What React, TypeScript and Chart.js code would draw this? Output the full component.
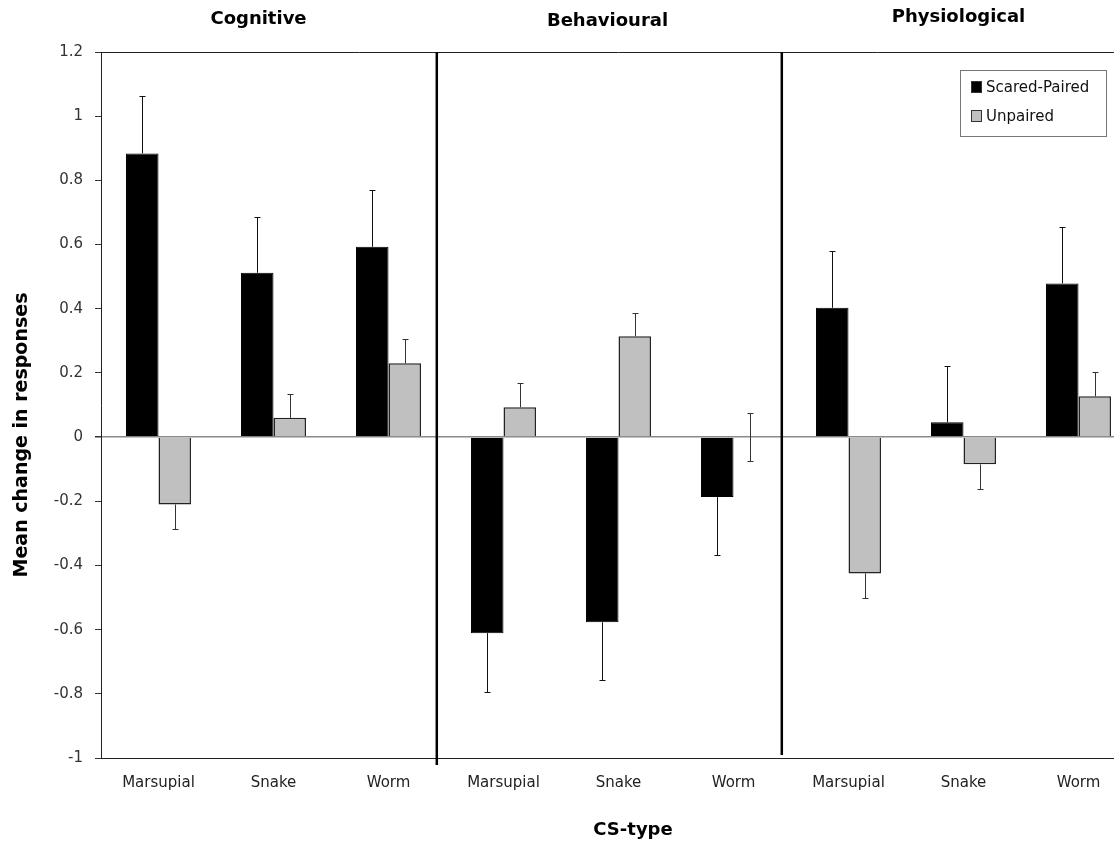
import React, { useEffect, useRef } from "react";
import { Chart, registerables } from "chart.js";

Chart.register(...registerables);

const categories = ["Marsupial", "Snake", "Worm", "Marsupial", "Snake", "Worm", "Marsupial", "Snake", "Worm"];
const panels = ["Cognitive", "Behavioural", "Physiological"];
const seriesNames = ["Scared-Paired", "Unpaired"];
const scaredPaired = [0.884, 0.512, 0.593, -0.611, -0.577, -0.187, 0.403, 0.046, 0.479];
const scaredPairedErr = [0.178, 0.174, 0.178, 0.183, 0.18, 0.181, 0.177, 0.177, 0.176];
const unpaired = [-0.21, 0.06, 0.23, 0.093, 0.314, 0, -0.425, -0.085, 0.127];
const unpairedErr = [0.076, 0.073, 0.075, 0.076, 0.072, 0.075, 0.076, 0.077, 0.075];
const yMin = -1;
const yMax = 1.2;
const yStep = 0.2;
const xTitle = "CS-type";
const yTitle = "Mean change in responses";

const FONT = "'DejaVu Sans', Verdana, sans-serif";

const errorBarsPlugin = {
  id: "errorBars",
  afterDatasetsDraw(chart: any) {
    const ctx = chart.ctx;
    const yScale = chart.scales.y;
    chart.data.datasets.forEach((ds: any, di: number) => {
      const meta = chart.getDatasetMeta(di);
      meta.data.forEach((bar: any, i: number) => {
        const v = ds.data[i];
        const e = ds.errors[i];
        const dirs = v > 0 ? [1] : v < 0 ? [-1] : [1, -1];
        ctx.save();
        ctx.strokeStyle = ds.errorColor;
        ctx.lineWidth = 1;
        dirs.forEach((d) => {
          const yEnd = Math.round(yScale.getPixelForValue(v + d * e)) + 0.5;
          const y0 = yScale.getPixelForValue(v);
          const x = Math.round(bar.x) + 0.5;
          ctx.beginPath();
          ctx.moveTo(x, y0);
          ctx.lineTo(x, yEnd);
          ctx.moveTo(x - 3, yEnd);
          ctx.lineTo(x + 3, yEnd);
          ctx.stroke();
        });
        ctx.restore();
      });
    });
  },
};

const decorPlugin = {
  id: "decor",
  afterDraw(chart: any) {
    const ctx = chart.ctx;
    const { top, bottom, left, right } = chart.chartArea;
    const xs = chart.scales.x;
    ctx.save();
    // top frame line
    ctx.strokeStyle = "#222";
    ctx.lineWidth = 1;
    ctx.beginPath();
    ctx.moveTo(left, top + 0.5);
    ctx.lineTo(right, top + 0.5);
    ctx.stroke();
    // panel dividers
    ctx.strokeStyle = "#000";
    ctx.lineWidth = 2.5;
    const divs = [
      { at: 2.42, ext: 7 },
      { at: 5.42, ext: -3 },
    ];
    divs.forEach((d) => {
      const x = xs.getPixelForValue(d.at);
      ctx.beginPath();
      ctx.moveTo(x, top);
      ctx.lineTo(x, bottom + d.ext);
      ctx.stroke();
    });
    // panel titles
    ctx.fillStyle = "#000";
    ctx.font = `bold 18px ${FONT}`;
    ctx.textAlign = "center";
    ctx.textBaseline = "middle";
    panels.forEach((p, i) => {
      const x = xs.getPixelForValue(i * 3 + 1);
      ctx.fillText(p, x - (i === 0 ? 15 : i === 1 ? 11 : 5), i === 1 ? 21 : i === 0 ? 19 : 17);
    });
    // y title
    ctx.save();
    ctx.translate(22, 435);
    ctx.rotate(-Math.PI / 2);
    ctx.font = `bold 19px ${FONT}`;
    ctx.fillText(yTitle, 0, 0);
    ctx.restore();
    // x title
    ctx.font = `bold 18px ${FONT}`;
    ctx.fillText(xTitle, 633, 830);
    // legend
    const lx = 960.5, ly = 70.5, lw = 146, lh = 66;
    ctx.fillStyle = "#fff";
    ctx.fillRect(lx, ly, lw, lh);
    ctx.strokeStyle = "#777";
    ctx.lineWidth = 1;
    ctx.strokeRect(lx, ly, lw, lh);
    chart.data.datasets.forEach((ds: any, i: number) => {
      const cy = 87 + i * 29;
      ctx.fillStyle = ds.backgroundColor;
      ctx.fillRect(971, cy - 6, 11, 12);
      ctx.strokeStyle = "#333";
      ctx.lineWidth = 1;
      ctx.strokeRect(971.5, cy - 5.5, 10, 11);
      ctx.fillStyle = "#111";
      ctx.font = `15px ${FONT}`;
      ctx.textAlign = "left";
      ctx.textBaseline = "middle";
      ctx.fillText(ds.label, 986, cy + 1);
    });
    ctx.restore();
  },
};

export default function App() {
  const ref = useRef<HTMLCanvasElement>(null);
  useEffect(() => {
    if (!ref.current) return;
    Chart.defaults.font.family = FONT;
    const chart = new Chart(ref.current, {
      type: "bar",
      data: {
        labels: categories,
        datasets: [
          {
            label: seriesNames[0],
            data: scaredPaired,
            errors: scaredPairedErr,
            errorColor: "#111",
            backgroundColor: "#000",
            borderColor: "#000",
            borderWidth: 1,
          } as any,
          {
            label: seriesNames[1],
            data: unpaired,
            errors: unpairedErr,
            errorColor: "#333",
            backgroundColor: "#c0c0c0",
            borderColor: "#222",
            borderWidth: 1.5,
          } as any,
        ],
      },
      options: {
        responsive: false,
        animation: false,
        devicePixelRatio: 1,
        layout: { padding: { top: 52, left: 0, right: 0, bottom: 0 } },
        datasets: { bar: { categoryPercentage: 0.565, barPercentage: 1.0 } },
        plugins: { legend: { display: false }, title: { display: false }, tooltip: { enabled: false } },
        scales: {
          x: {
            grid: { display: false, drawTicks: false },
            border: { color: "#222", width: 1 },
            ticks: { color: "#222", font: { size: 15, family: FONT }, padding: 16, maxRotation: 0, autoSkip: false },
            afterFit: (s: any) => {
              s.height = 89;
            },
          },
          y: {
            min: yMin,
            max: yMax,
            border: { color: "#222", width: 1 },
            grid: {
              color: (c: any) => (c.tick && Math.abs(c.tick.value) < 1e-9 ? "#8a8a8a" : "rgba(0,0,0,0)"),
              lineWidth: (c: any) => (c.tick && Math.abs(c.tick.value) < 1e-9 ? 1.5 : 1),
              tickColor: "#333",
              tickLength: 6,
            },
            ticks: {
              stepSize: yStep,
              color: "#333",
              padding: 12,
              font: { size: 15, family: FONT },
              callback: (v: any) => String(Number(Number(v).toFixed(1))),
            },
            afterFit: (s: any) => {
              s.width = 101;
            },
          },
        },
      } as any,
      plugins: [errorBarsPlugin, decorPlugin],
    });
    return () => chart.destroy();
  }, []);
  return (
    <div style={{ position: "absolute", left: 0, top: 0, width: 1114, height: 847, overflow: "hidden", background: "#fff" }}>
      <canvas ref={ref} width={1136} height={847} style={{ display: "block" }} />
    </div>
  );
}
